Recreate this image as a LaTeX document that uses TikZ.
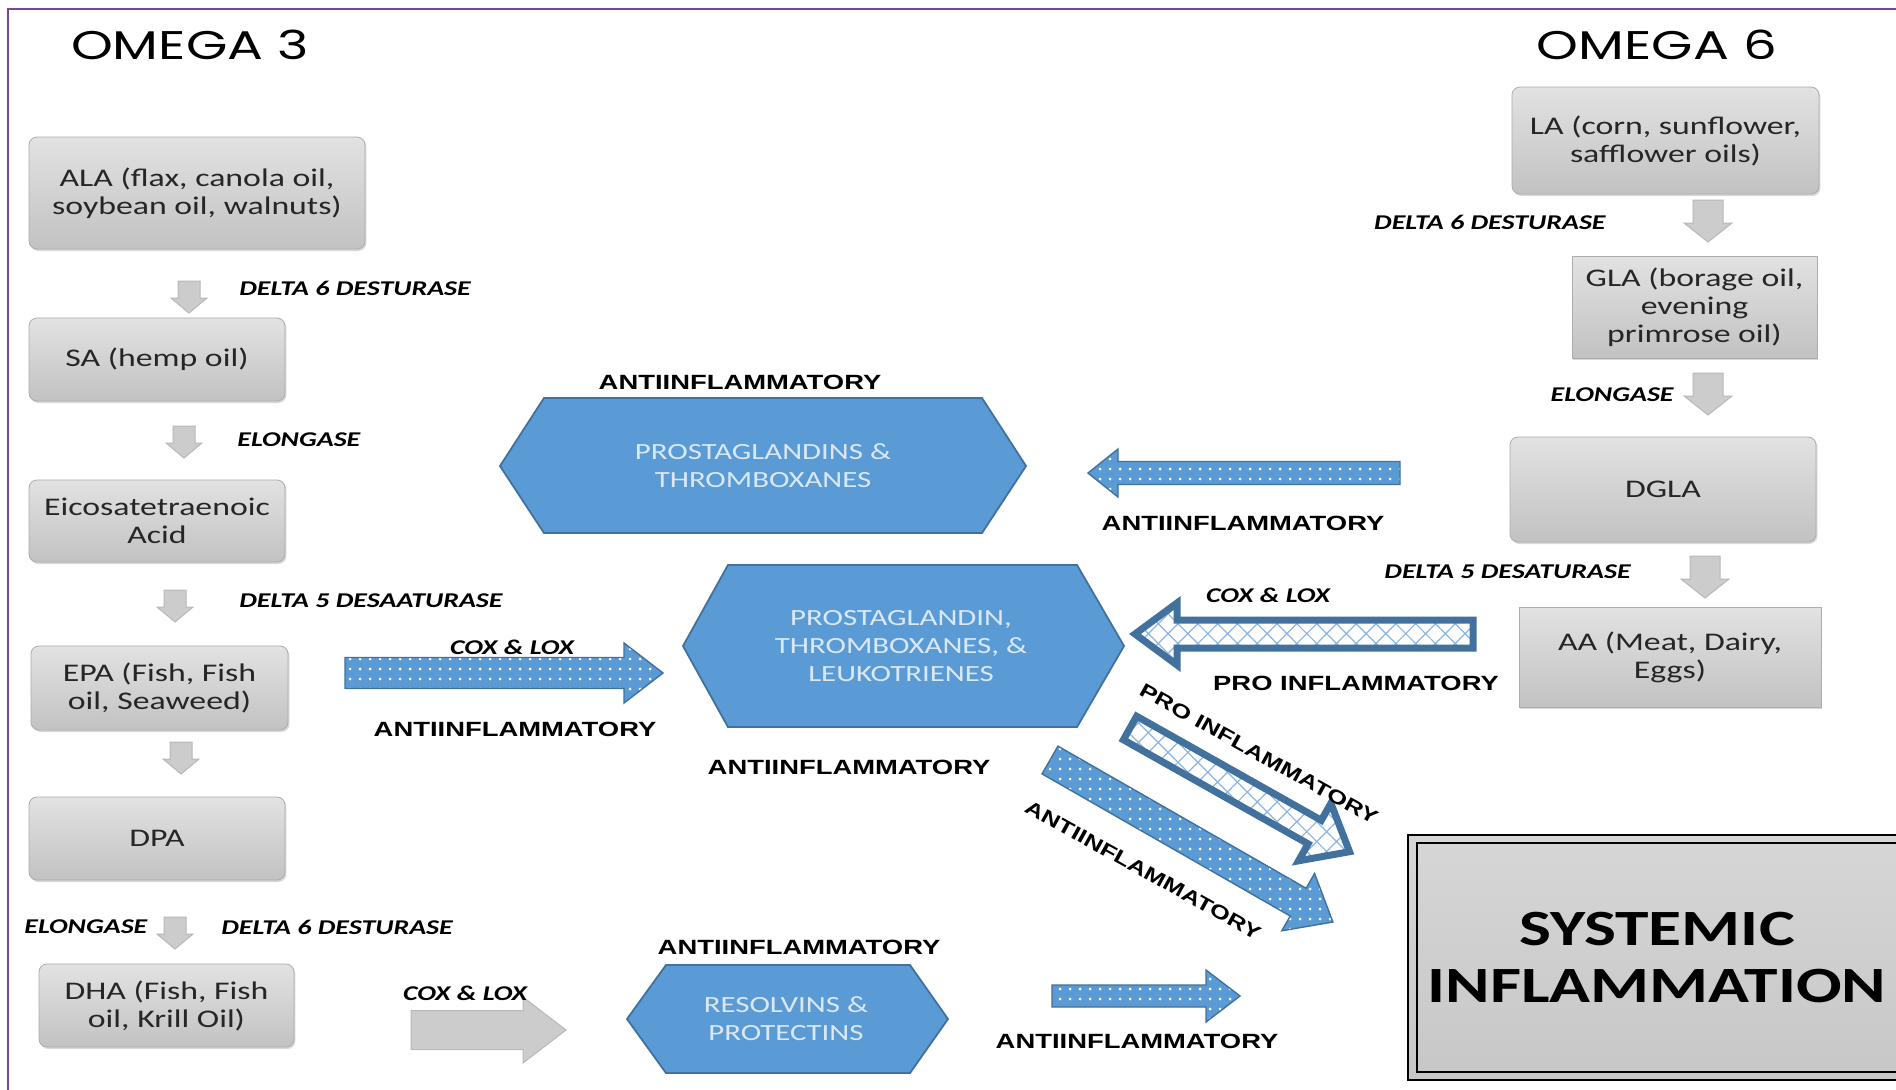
\documentclass[tikz,border=0pt]{standalone}
\usepackage{fontspec}
\setmainfont[FakeStretch=1.33]{Carlito}
\newfontfamily\titlefont[FakeStretch=1.33]{Poppins}
\newfontfamily\labfont[FakeStretch=1.33]{Liberation Sans}
\usetikzlibrary{fit,shadows,patterns.meta}
\definecolor{hexblue}{RGB}{91,155,213}
\definecolor{hexedge}{RGB}{65,113,156}
\definecolor{hextext}{RGB}{218,232,246}
\definecolor{boxtop}{RGB}{226,226,226}
\definecolor{boxbot}{RGB}{194,194,194}
\definecolor{boxedge}{RGB}{172,172,172}
\definecolor{framecol}{RGB}{118,72,140}
\definecolor{txt}{RGB}{38,38,38}
\definecolor{hatchblue}{RGB}{140,182,226}
\definecolor{arrowgray}{RGB}{204,204,204}
% block arrow: options, tail point, angle, length, body half width, head half width, head length
\newcommand\blockar[7]{\path[#1, shift={(#2)}, rotate=#3] (0,-#5) -- (#4-#7,-#5) -- (#4-#7,-#6) -- (#4,0) -- (#4-#7,#6) -- (#4-#7,#5) -- (0,#5) -- cycle;}
\begin{document}
\begin{tikzpicture}[x=0.5pt,y=-0.5pt,
  box/.style={draw=boxedge, top color=boxtop, bottom color=boxbot, inner sep=0pt,
    drop shadow={shadow xshift=0.7pt, shadow yshift=-1pt, opacity=0.3}},
  rbox/.style={box, rounded corners=4pt},
  boxtxt/.style={align=center, font=\fontsize{12.7}{14}\selectfont, text=txt, inner sep=0pt},
  enz/.style={font=\fontsize{10.5}{12}\selectfont\bfseries\itshape, inner sep=0pt, text=black},
  lab/.style={font=\labfont\fontsize{10.3}{12}\selectfont\bfseries, inner sep=0pt, text=black},
  rlab/.style={lab, font=\labfont\fontsize{9.7}{12}\selectfont\bfseries, rotate=-29},
  hex/.style={fill=hexblue, draw=hexedge, line width=0.9pt},
  hextxt/.style={font=\fontsize{11.6}{14}\selectfont, text=hextext, align=center, inner sep=0pt},
  dotar/.style={preaction={fill=hexblue}, pattern={Dots[radius=0.75pt, distance=5pt]}, pattern color=white, draw=hexedge, line width=0.7pt},
  hatchar/.style={preaction={fill=white}, pattern={Hatch[angle=45, distance=7pt, line width=0.6pt]}, pattern color=hatchblue, draw=hexedge, line width=3.5pt, line join=miter},
  grayar/.style={fill=arrowgray, draw=black!28, line width=0.5pt},
  titl/.style={font=\titlefont\fontsize{20}{24}\selectfont, inner sep=0pt, text=black}
]
\useasboundingbox (0,0) rectangle (1896,1089);
\clip (0,0) rectangle (1896,1089);
\fill[white] (0,0) rectangle (1896,1089);
\draw[framecol, line width=1.2pt] (8,1100) -- (8,9) -- (1910,9);

% titles
\node[titl] (om3) at (190,45) {OMEGA 3};
\node[titl] (om6) at (1657,45) {OMEGA 6};

% omega 3 column
\node[rbox, fit={(29,137)(365,249)}] (ala) {};
\node[boxtxt] (alat) at (ala.center) {ALA (flax, canola oil,\\soybean oil, walnuts)};
\node[rbox, fit={(29,318)(285,401)}] (sa) {};
\node[boxtxt] (sat) at (sa.center) {SA (hemp oil)};
\node[rbox, fit={(29,480)(285,562)}] (eic) {};
\node[boxtxt] (eict) at (eic.center) {Eicosatetraenoic\\Acid};
\node[rbox, fit={(31,646)(288,730)}] (epa) {};
\node[boxtxt] (epat) at (epa.center) {EPA (Fish, Fish\\oil, Seaweed)};
\node[rbox, fit={(29,797)(285,880)}] (dpa) {};
\node[boxtxt] (dpat) at (dpa.center) {DPA};
\node[rbox, fit={(39,964)(294,1047)}] (dha) {};
\node[boxtxt] (dhat) at (dha.center) {DHA (Fish, Fish\\oil, Krill Oil)};

\blockar{grayar}{189,281}{-90}{32}{11}{18}{15}
\blockar{grayar}{184,426}{-90}{32}{11}{18}{15}
\blockar{grayar}{175,590}{-90}{32}{11}{18}{15}
\blockar{grayar}{181,742}{-90}{32}{11}{18}{15}
\blockar{grayar}{175,917}{-90}{32}{11}{18}{15}

\node[enz, anchor=west] (e1) at (239,288) {DELTA 6 DESTURASE};
\node[enz, anchor=west] (e2) at (237,440) {ELONGASE};
\node[enz, anchor=west] (e3) at (239,601) {DELTA 5 DESAATURASE};
\node[enz, anchor=west] (e4) at (24,927) {ELONGASE};
\node[enz, anchor=west] (e5) at (221,927) {DELTA 6 DESTURASE};

% omega 6 column
\node[rbox, fit={(1512,87)(1819,194)}] (la) {};
\node[boxtxt] (lat) at (la.center) {LA (corn, sunflower,\\safflower oils)};
\node[box, fit={(1572,256)(1817,358)}] (gla) {};
\node[boxtxt] (glat) at (gla.center) {GLA (borage oil,\\evening\\primrose oil)};
\node[rbox, fit={(1510,437)(1816,542)}] (dgla) {};
\node[boxtxt] (dglat) at (dgla.center) {DGLA};
\node[box, fit={(1519,607)(1821,707)}] (aa) {};
\node[boxtxt] (aat) at (aa.center) {AA (Meat, Dairy,\\Eggs)};

\blockar{grayar}{1708,200}{-90}{42}{15}{24}{19}
\blockar{grayar}{1708,373}{-90}{42}{15}{24}{19}
\blockar{grayar}{1705,556}{-90}{42}{15}{24}{19}

\node[enz, anchor=east] (e6) at (1606,222) {DELTA 6 DESTURASE};
\node[enz, anchor=east] (e7) at (1674,395) {ELONGASE};
\node[enz, anchor=west] (e8) at (1384,572) {DELTA 5 DESATURASE};

% hexagons
\draw[hex] (500,466) -- (544,398) -- (982,398) -- (1026,466) -- (982,533) -- (544,533) -- cycle;
\node[hextxt] (h1) at (763,466) {PROSTAGLANDINS \&\\THROMBOXANES};
\draw[hex] (683,646) -- (728,565) -- (1077,565) -- (1124,646) -- (1077,727) -- (728,727) -- cycle;
\node[hextxt] (h2) at (901,646) {PROSTAGLANDIN,\\THROMBOXANES, \&\\LEUKOTRIENES};
\draw[hex] (627,1019) -- (666,965) -- (910,965) -- (948,1019) -- (910,1073) -- (666,1073) -- cycle;
\node[hextxt] (h3) at (786,1019) {RESOLVINS \&\\PROTECTINS};

% block arrows
\blockar{dotar}{345,673}{0}{318}{15.5}{30}{39}
\blockar{dotar}{1400,473}{180}{312}{11.5}{24}{30}
\blockar{hatchar}{1473,634}{180}{338}{14}{31}{42}
\blockar{hatchar}{1130,728}{-29.4}{252}{13.5}{33}{40}
\blockar{dotar}{1050,760}{-29.8}{326}{16}{33}{40}
\blockar{dotar}{1052,996}{0}{188}{11}{26}{34}
\blockar{grayar}{411,1030}{0}{155}{19.5}{33}{43}

% labels
\node[lab] (l1) at (740,382) {ANTIINFLAMMATORY};
\node[lab] (l2) at (1243,523) {ANTIINFLAMMATORY};
\node[enz] (c1) at (1268,595) {COX \& LOX};
\node[lab] (l3) at (1356,683) {PRO INFLAMMATORY};
\node[enz] (c2) at (512,647) {COX \& LOX};
\node[lab] (l4) at (515,729) {ANTIINFLAMMATORY};
\node[lab] (l5) at (849,767) {ANTIINFLAMMATORY};
\node[rlab] (l6) at (1259,754) {PRO INFLAMMATORY};
\node[rlab] (l7) at (1143,870) {ANTIINFLAMMATORY};
\node[lab] (l8) at (799,947) {ANTIINFLAMMATORY};
\node[lab] (l9) at (1137,1041) {ANTIINFLAMMATORY};
\node[enz] (c3) at (465,993) {COX \& LOX};

% systemic inflammation
\node[draw=black, line width=0.8pt, top color=black!16, bottom color=black!22, inner sep=0pt, fit={(1408,835)(1930,1080)}] (sysout) {};
\node[draw=black, line width=1.4pt, inner sep=0pt, fit={(1417,843)(1930,1072)}] (sysin) {};
\node[font=\fontsize{25.4}{28.5}\selectfont\bfseries, align=center, text=black, inner sep=0pt] (sys) at (1657,957) {SYSTEMIC\\INFLAMMATION};
\end{tikzpicture}
\end{document}
